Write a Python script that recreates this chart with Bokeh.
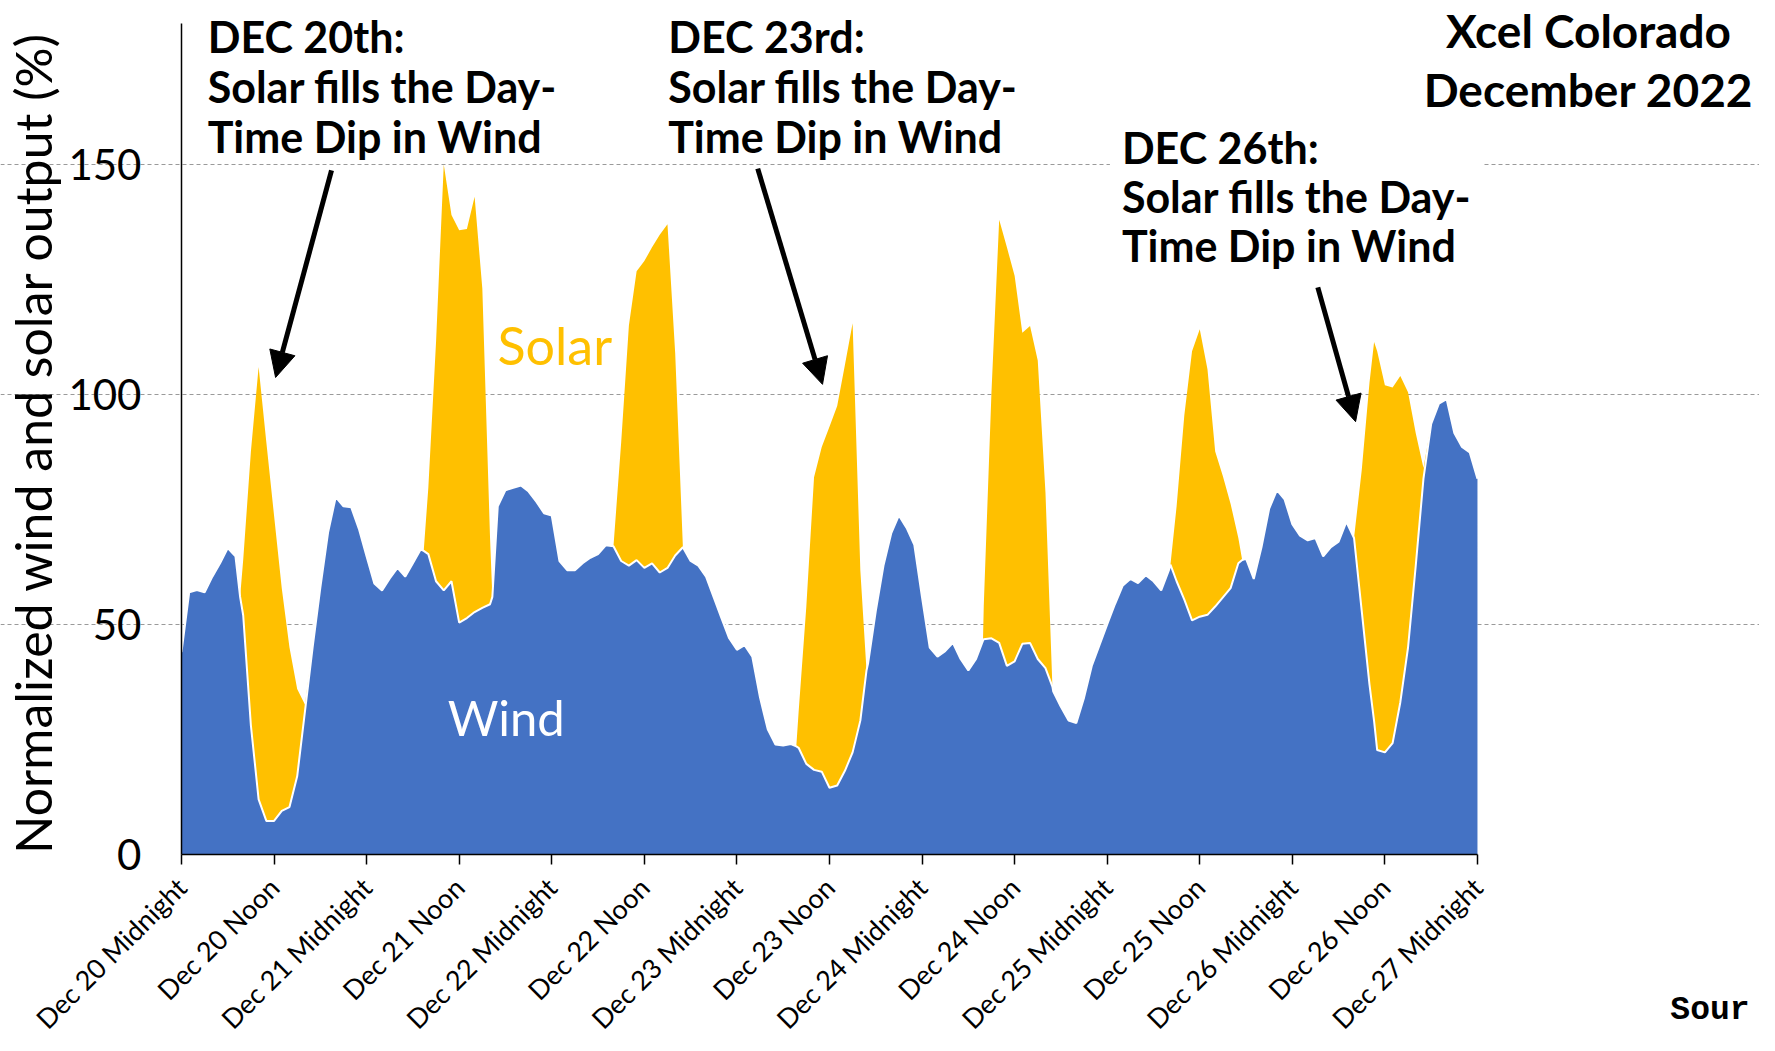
import math
from bokeh.plotting import figure
from bokeh.models import ColumnDataSource, Range1d, FixedTicker, Label, Arrow, NormalHead
from bokeh.embed import file_html
from bokeh.resources import INLINE

# Hours since Dec 20 midnight
hours = [0, 1, 2, 3, 4, 5, 6, 7, 7.6, 8, 9, 10, 11, 12, 13, 14, 15, 16, 17, 18, 19, 20,
         21, 22, 23, 24, 25, 26, 27, 28, 29, 30, 31, 31.4, 32, 33, 34, 35, 36, 37, 38, 39, 40, 40.3,
         41, 42, 43, 44, 45, 46, 47, 48, 49, 50, 51, 52, 53, 54, 55, 56, 57, 58, 59, 60,
         61, 62, 63, 64, 65, 66, 67, 68, 69, 70, 71, 72, 73, 74, 75, 76, 77, 78, 79, 79.7,
         80, 81, 82, 83, 84, 85, 86, 87, 88, 88.8, 89, 90, 91, 92, 93, 94, 95, 96, 97, 98,
         99, 100, 101, 102, 103, 103.9, 104, 105, 106, 107, 108, 109, 110, 111, 112, 112.9, 113,
         114, 115, 116, 117, 118, 119, 120, 121, 122, 123, 124, 125, 126, 127, 128, 128.2,
         129, 130, 131, 132, 133, 134, 135, 136, 137, 137.5, 138, 139, 140, 141, 142, 143,
         144, 145, 146, 147, 148, 149, 150, 151, 152, 153, 154, 154.6, 155, 156, 157, 158,
         159, 160, 161, 162, 163, 164, 165, 166, 167, 168]

wind = [44, 57, 57.5, 57, 60.4, 63.3, 66.6, 64.8, 56, 52, 28, 12, 7.3, 7.3, 9.5, 10.3, 17, 31, 45, 58, 70, 77.7,
        75.7, 75.5, 70.8, 64.8, 58.9, 57.4, 60, 62.3, 60.4, 63.3, 66.3, 66, 65.3, 59.4, 57.4, 59.4, 50.4, 51.4, 52.7, 53.6, 54.4, 56,
        75.7, 79.2, 79.7, 80.2, 78.9, 76.7, 74.2, 73.7, 63.8, 61.8, 61.8, 63.3, 64.5, 65.3, 67.2, 67, 63.8, 62.8, 64, 62.3,
        63.3, 61.3, 62.3, 65, 66.8, 63.8, 62.8, 60.4, 55.9, 51.4, 47, 44.5, 45.5, 43, 34.1, 27.2, 23.9, 23.7, 24, 23.5,
        23.2, 19.7, 18.4, 18, 14.5, 15, 18.2, 22.2, 29.1, 40, 41.5, 52.9, 62.8, 69.8, 73.7, 71, 67.3, 55.9, 45, 43,
        44.2, 46, 42.5, 40, 42.5, 46.5, 46.8, 47, 46, 41, 42, 45.8, 46, 42.5, 40.5, 36.5, 35.5,
        32.1, 29.1, 28.6, 34.1, 41, 45.5, 50, 54.4, 58.4, 59.9, 59, 60.7, 59.4, 57.4, 61.8, 63,
        59.4, 55.4, 50.9, 51.7, 52.1, 53.9, 55.9, 57.9, 63.3, 64, 64.3, 59.9, 66.8, 75.2, 79.2, 77.2,
        71.8, 69.3, 68.3, 68.8, 64.8, 66.8, 68, 72.3, 68.8, 52.9, 37, 29, 22.7, 22.2, 24.2, 33.1,
        45, 62.8, 81.7, 93.6, 98, 99, 91.6, 88.6, 87.4, 81.7]

solar = [0, 0, 0, 0, 0, 0, 0, 0, 0, 12, 59.6, 94, 82.3, 66.4, 48.4, 34.7, 19, 1.6, 0, 0, 0, 0,
         0, 0, 0, 0, 0, 0, 0, 0, 0, 0, 0, 0, 14.4, 52, 92.6, 79.6, 85.3, 84.6, 90.3, 69.4, 14.4, 0,
         0, 0, 0, 0, 0, 0, 0, 0, 0, 0, 0, 0, 0, 0, 0, 0, 25.8, 52.2, 62.8, 66.7,
         68.7, 73.4, 74.7, 44, 0, 0, 0, 0, 0, 0, 0, 0, 0, 0, 0, 0, 0, 0, 0, 0,
         7.8, 34.2, 63.6, 70.6, 78.5, 82.5, 88.2, 93.3, 32.7, 0, 0, 0, 0, 0, 0, 0, 0, 0, 0, 0,
         0, 0, 0, 0, 0, 0, 7.2, 53.5, 92, 91, 83.8, 67.6, 68.9, 64.9, 38.2, 0, 0,
         0, 0, 0, 0, 0, 0, 0, 0, 0, 0, 0, 0, 0, 0, 0, 0,
         16.3, 40.1, 58.5, 62.5, 53.4, 33.7, 26.3, 18.3, 5.5, 0, 0, 0, 0, 0, 0, 0,
         0, 0, 0, 0, 0, 0, 0, 0, 0, 30.7, 65.5, 82.4, 86.7, 79.8, 77.3, 70.9,
         55.5, 28.8, 2.3, 0, 0, 0, 0, 0, 0, 0]

tick_hours = [0, 12, 24, 36, 48, 60, 72, 84, 96, 108, 120, 132, 144, 156, 168]
tick_labels = ["Dec 20 Midnight", "Dec 20 Noon", "Dec 21 Midnight", "Dec 21 Noon",
               "Dec 22 Midnight", "Dec 22 Noon", "Dec 23 Midnight", "Dec 23 Noon",
               "Dec 24 Midnight", "Dec 24 Noon", "Dec 25 Midnight", "Dec 25 Noon",
               "Dec 26 Midnight", "Dec 26 Noon", "Dec 27 Midnight"]
y_ticks = [0, 50, 100, 150]
grid_values = [50, 100, 150]

total = [w + s for w, s in zip(wind, solar)]
src = ColumnDataSource(dict(h=hours, wind=wind, total=total, zero=[0] * len(hours)))

WIND_C = "#4472C4"
SOLAR_C = "#FFC000"
FONT = "Lato"

X_END = 168
Y_TOP = 180.6

# the frame fills the whole canvas; axes are pinned at the data origin
p = figure(width=1759, height=1035, x_range=Range1d(-23.46, 204.56), y_range=Range1d(-39.35, 185.65),
           output_backend="svg", toolbar_location=None,
           min_border_left=0, min_border_right=0, min_border_top=0, min_border_bottom=0)
p.outline_line_color = None
p.background_fill_color = "white"
p.border_fill_color = "white"

p.xgrid.visible = False
p.ygrid.ticker = FixedTicker(ticks=grid_values)
p.ygrid.bounds = (0, X_END)
p.ygrid.grid_line_dash = "4 3"
p.ygrid.grid_line_color = "#9a9a9a"
p.ygrid.grid_line_width = 1

p.varea(x="h", y1="wind", y2="total", source=src, fill_color=SOLAR_C)
p.varea(x="h", y1="zero", y2="wind", source=src, fill_color=WIND_C)
p.line(x="h", y="wind", source=src, line_color="white", line_width=2)

# y axis
p.yaxis.fixed_location = 0
p.yaxis.bounds = (0, Y_TOP)
p.yaxis.ticker = FixedTicker(ticks=y_ticks)
p.yaxis.major_tick_line_color = None
p.yaxis.minor_tick_line_color = None
p.yaxis.major_tick_out = 0
p.yaxis.major_tick_in = 0
p.yaxis.axis_line_color = "black"
p.yaxis.axis_line_width = 1.5
p.yaxis.major_label_text_font = FONT
p.yaxis.major_label_text_font_size = "42px"
p.yaxis.major_label_text_color = "black"
p.yaxis.major_label_standoff = 40

# x axis
p.xaxis.fixed_location = 0
p.xaxis.bounds = (0, X_END)
p.xaxis.ticker = FixedTicker(ticks=tick_hours)
p.xaxis.major_label_overrides = {h: lab for h, lab in zip(tick_hours, tick_labels)}
p.xaxis.major_label_orientation = math.pi / 4
p.xaxis.major_label_text_font = FONT
p.xaxis.major_label_text_font_size = "27px"
p.xaxis.major_label_text_color = "black"
p.xaxis.major_label_standoff = 18
p.xaxis.minor_tick_line_color = None
p.xaxis.major_tick_out = 10
p.xaxis.major_tick_in = 0
p.xaxis.major_tick_line_color = "black"
p.xaxis.major_tick_line_width = 1.5
p.xaxis.axis_line_color = "black"
p.xaxis.axis_line_width = 1.5

# y axis title
p.add_layout(Label(x=-19.3, y=89.5, text="Normalized wind and solar output (%)", angle=math.pi / 2,
                   text_align="center", text_baseline="middle", text_font=FONT,
                   text_font_size="50px", text_color="black"))

# Series labels
p.add_layout(Label(x=42.1, y=29.8, text="Wind", text_align="center", text_baseline="middle",
                   text_font=FONT, text_font_size="49px", text_color="white"))
p.add_layout(Label(x=48.4, y=110.7, text="Solar", text_align="center", text_baseline="middle",
                   text_font=FONT, text_font_size="52px", text_color=SOLAR_C))

# Title
p.add_layout(Label(x=182.4, y=179.1, text="Xcel Colorado", text_align="center", text_baseline="middle",
                   text_font=FONT, text_font_size="46px", text_font_style="bold", text_color="black"))
p.add_layout(Label(x=182.4, y=166.3, text="December 2022", text_align="center", text_baseline="middle",
                   text_font=FONT, text_font_size="46px", text_font_style="bold", text_color="black"))

# Annotations
ann_text = "Solar fills the Day-\nTime Dip in Wind"
p.add_layout(Label(x=3.4, y=183.4, text="DEC 20th:\n" + ann_text, text_align="left", text_baseline="top",
                   text_font=FONT, text_font_size="43px", text_font_style="bold",
                   text_line_height=0.98, text_color="black"))
p.add_layout(Label(x=63.1, y=183.4, text="DEC 23rd:\n" + ann_text, text_align="left", text_baseline="top",
                   text_font=FONT, text_font_size="43px", text_font_style="bold",
                   text_line_height=0.98, text_color="black"))
p.add_layout(Label(x=120.35, y=161.9, text="DEC 26th:\n" + ann_text, text_align="left", text_baseline="top",
                   text_font=FONT, text_font_size="43px", text_font_style="bold",
                   text_line_height=0.96, text_color="black", padding=12,
                   background_fill_color="white", background_fill_alpha=1.0))

for xs, ys, xe, ye in [(19.45, 148.7, 12.2, 103.7), (74.7, 149.1, 83.1, 102.2), (147.3, 123.3, 152.2, 94.1)]:
    p.add_layout(Arrow(end=NormalHead(size=26, fill_color="black", line_color="black"),
                       x_start=xs, y_start=ys, x_end=xe, y_end=ye, line_width=5, line_color="black"))

p.add_layout(Label(x=193.0, y=-34.0, text="Sour", text_align="left", text_baseline="middle",
                   text_font="Liberation Mono", text_font_size="33px", text_font_style="bold",
                   text_color="black"))

open("out.html", "w").write(file_html(p, INLINE))
